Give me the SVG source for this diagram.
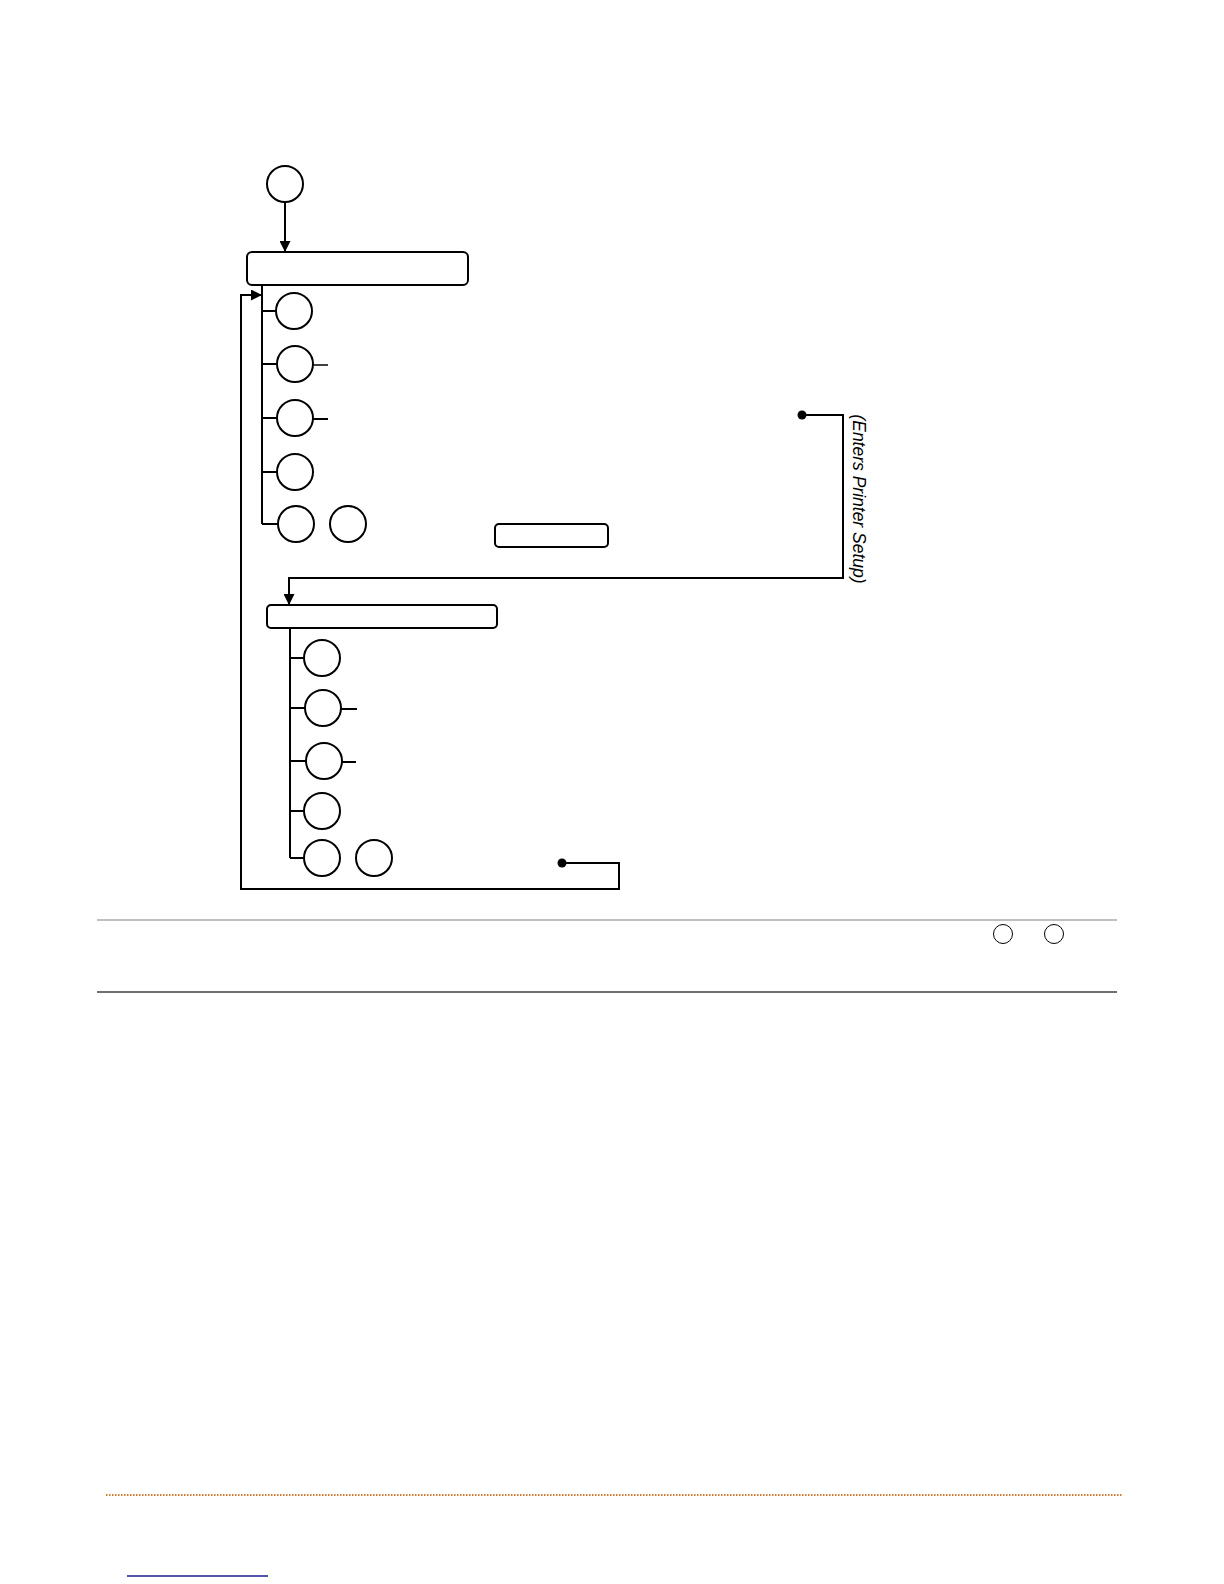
<svg xmlns="http://www.w3.org/2000/svg" width="1224" height="1584" viewBox="0 0 1224 1584">
<style>
.n{fill:#fff;stroke:#000;stroke-width:2}
.c{fill:none;stroke:#000;stroke-width:2}
.t{fill:none;stroke:#000;stroke-width:1.5}
.s{fill:none;stroke:#000;stroke-width:1}
.lbl{font-family:"Liberation Sans",Arial,sans-serif;font-size:17.5px;font-style:italic;fill:#000}
</style>
<defs>
<marker id="ah" viewBox="0 0 10 10" refX="10" refY="5" markerWidth="12" markerHeight="11" markerUnits="userSpaceOnUse" orient="auto">
<path d="M0,0 L10,5 L0,10 Z" fill="#000"/>
</marker>
</defs>
<rect width="1224" height="1584" fill="#fff"/>
<g id="connectors">
<line class="c" x1="285" y1="202" x2="285" y2="252" marker-end="url(#ah)"/>
<line class="c" x1="262" y1="285" x2="262" y2="524"/>
<line class="c" x1="262" y1="311" x2="276" y2="311"/>
<line class="c" x1="262" y1="364" x2="277" y2="364"/>
<line class="c" x1="262" y1="418" x2="277" y2="418"/>
<line class="c" x1="262" y1="472" x2="277" y2="472"/>
<line class="c" x1="262" y1="524" x2="278" y2="524"/>
<line class="t" x1="313" y1="365" x2="328" y2="365"/>
<line class="c" x1="313" y1="419" x2="328" y2="419"/>
<path class="c" d="M802,415 H843 V578 H289 V605" marker-end="url(#ah)"/>
<circle cx="802" cy="415" r="4.5" fill="#000"/>
<line class="c" x1="290" y1="628" x2="290" y2="858"/>
<line class="c" x1="290" y1="658" x2="304" y2="658"/>
<line class="c" x1="290" y1="708" x2="305" y2="708"/>
<line class="c" x1="290" y1="761" x2="306" y2="761"/>
<line class="c" x1="290" y1="811" x2="304" y2="811"/>
<line class="c" x1="290" y1="858" x2="304" y2="858"/>
<line class="c" x1="341" y1="709" x2="357" y2="709"/>
<line class="c" x1="342" y1="762" x2="356" y2="762"/>
<path class="c" d="M562,863 H619 V889 H241 V295 H262" marker-end="url(#ah)"/>
<circle cx="562" cy="863" r="4.5" fill="#000"/>
</g>
<g id="start"><circle class="n" cx="285" cy="184" r="18"/></g>
<g id="box1"><rect class="n" x="247" y="252" width="221" height="33" rx="5"/></g>
<g id="b1r1"><circle class="n" cx="294" cy="311" r="18"/></g>
<g id="b1r2"><circle class="n" cx="295" cy="364" r="18"/></g>
<g id="b1r3"><circle class="n" cx="295" cy="418" r="18"/></g>
<g id="b1r4"><circle class="n" cx="295" cy="472" r="18"/></g>
<g id="b1r5a"><circle class="n" cx="296" cy="524" r="18"/></g>
<g id="b1r5b"><circle class="n" cx="348" cy="524" r="18"/></g>
<g id="smallbox"><rect class="n" x="495" y="524" width="113" height="23" rx="4"/></g>
<g id="label"><text class="lbl" transform="translate(853,499) rotate(90)" text-anchor="middle">(Enters Printer Setup)</text></g>
<g id="box2"><rect class="n" x="267" y="605" width="230" height="23" rx="4"/></g>
<g id="b2r1"><circle class="n" cx="322" cy="658" r="18"/></g>
<g id="b2r2"><circle class="n" cx="323" cy="708" r="18"/></g>
<g id="b2r3"><circle class="n" cx="324" cy="761" r="18"/></g>
<g id="b2r4"><circle class="n" cx="322" cy="811" r="18"/></g>
<g id="b2r5a"><circle class="n" cx="322" cy="858" r="18"/></g>
<g id="b2r5b"><circle class="n" cx="374" cy="858" r="18"/></g>
<g id="note">
<line x1="97" y1="920" x2="1117" y2="920" stroke="#808080" stroke-width="1.2"/>
<circle class="s" cx="1003" cy="934" r="9.5" fill="none"/>
<circle class="s" cx="1054" cy="934" r="9.5" fill="none"/>
<line x1="97" y1="992" x2="1117" y2="992" stroke="#707070" stroke-width="2"/>
</g>
<g id="footer">
<line x1="106" y1="1495" x2="1123" y2="1495" stroke="#d07a30" stroke-width="2" stroke-dasharray="1.5,1.5"/>
<line x1="127" y1="1576" x2="268" y2="1576" stroke="#1a1a8c" stroke-width="1.5"/>
</g>
</svg>
